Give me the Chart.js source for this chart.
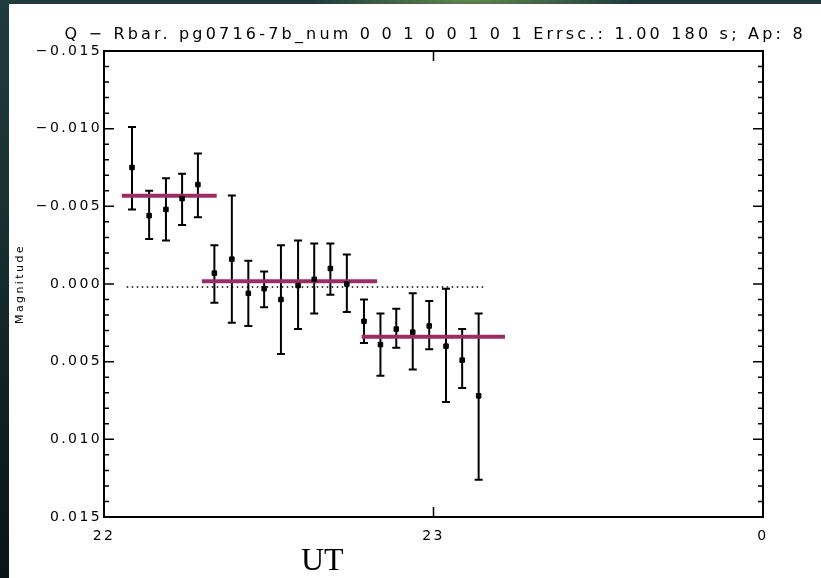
<!DOCTYPE html>
<html><head><meta charset="utf-8">
<script src="https://cdn.jsdelivr.net/npm/chart.js@4"></script>
<style>
html,body{margin:0;padding:0;width:821px;height:578px;overflow:hidden;}
body{position:relative;background:
 radial-gradient(ellipse 160px 18px at 470px 0px, rgba(110,150,80,0.85) 0%, rgba(40,70,60,0) 100%),
 linear-gradient(180deg,#1f3b3e 0%, #183133 35%, #10201f 70%, #0a1315 100%);}
#wrap{position:absolute;left:9px;top:4px;width:812px;height:574px;background:#fff;}
canvas{position:absolute;left:0;top:0;}
#ut{position:absolute;left:301px;top:541px;font-family:"Liberation Serif","DejaVu Serif",serif;font-size:32px;line-height:36px;color:#000;}
</style></head>
<body><div id="wrap"><canvas id="c" width="812" height="574"></canvas></div><div id="ut">UT</div>
<script>
const TITLE = "Q − Rbar. pg0716-7b_num 0 0 1 0 0 1 0 1 Errsc.: 1.00 180 s; Ap: 8";
const Y_LABEL = "Magnitude";

// Observation times (UT hours)
const ut = [22.085, 22.137, 22.188, 22.237, 22.285, 22.335, 22.388, 22.438, 22.486, 22.537, 22.589,
            22.638, 22.687, 22.737, 22.789, 22.839, 22.887, 22.937, 22.987, 23.038, 23.087, 23.137];
// Magnitudes
const mag = [-0.0075, -0.0044, -0.0048, -0.0055, -0.0064, -0.0007, -0.0016, 0.0006, 0.0003, 0.0010, 0.0001,
             -0.0003, -0.0010, 0.0000, 0.0024, 0.0039, 0.0029, 0.0031, 0.0027, 0.0040, 0.0049, 0.0072];
// Error bar ends (upper = more negative, lower = more positive)
const errTop = [-0.0101, -0.0060, -0.0068, -0.0071, -0.0084, -0.0025, -0.0057, -0.0015, -0.0008, -0.0025, -0.0028,
                -0.0026, -0.0026, -0.0019, 0.0010, 0.0019, 0.0016, 0.0006, 0.0011, 0.0003, 0.0029, 0.0019];
const errBottom = [-0.0048, -0.0029, -0.0028, -0.0038, -0.0043, 0.0012, 0.0025, 0.0027, 0.0015, 0.0045, 0.0029,
                   0.0019, 0.0007, 0.0018, 0.0038, 0.0059, 0.0041, 0.0055, 0.0042, 0.0076, 0.0067, 0.0126];
// Mean levels
const levelStart = [22.054, 22.297, 22.782];
const levelEnd   = [22.342, 22.829, 23.217];
const levelMag   = [-0.00568, -0.00017, 0.00339];
// Reference (dotted) line
const zeroStart = 22.069, zeroEnd = 23.161, zeroMag = 0.0002;
// Axis ranges / ticks
const xMin = 22, xMax = 24, xStep = 1;
const yMin = -0.015, yMax = 0.015, yStep = 0.005, yMinorStep = 0.001;

const PINK = '#9b2d64';
const FONT = '"DejaVu Sans", sans-serif';

function setSpacing(chart){ chart.ctx.letterSpacing = '2.4px'; }

const decor = {
  id: 'decor',
  beforeUpdate: setSpacing,
  beforeLayout: setSpacing,
  beforeDraw: setSpacing,
  beforeDatasetsDraw(chart){
    const ctx = chart.ctx, xs = chart.scales.x, ys = chart.scales.y;
    ctx.save();
    ctx.strokeStyle = '#000'; ctx.lineWidth = 2;
    for (let i = 0; i < ut.length; i++){
      const x = xs.getPixelForValue(ut[i]);
      const y1 = ys.getPixelForValue(errTop[i]);
      const y2 = ys.getPixelForValue(errBottom[i]);
      ctx.beginPath();
      ctx.moveTo(x, y1); ctx.lineTo(x, y2);
      ctx.moveTo(x-4, y1); ctx.lineTo(x+4, y1);
      ctx.moveTo(x-4, y2); ctx.lineTo(x+4, y2);
      ctx.stroke();
    }
    ctx.restore();
  },
  afterDatasetsDraw(chart){
    const ctx = chart.ctx, a = chart.chartArea, xs = chart.scales.x, ys = chart.scales.y;
    ctx.save();
    ctx.strokeStyle = '#000'; ctx.lineWidth = 2;
    ctx.strokeRect(a.left, a.top, a.right - a.left, a.bottom - a.top);
    ctx.lineWidth = 1.5;
    ctx.beginPath();
    const eps = 1e-9;
    const majors = ys.ticks.map(t => t.value).filter(v => v >= yMin - eps && v <= yMax + eps);
    majors.forEach(v => {
      const y = ys.getPixelForValue(v);
      ctx.moveTo(a.left, y); ctx.lineTo(a.left + 10, y);
      ctx.moveTo(a.right, y); ctx.lineTo(a.right - 10, y);
      const n = Math.round(yStep / yMinorStep);
      for (let m = 1; m < n; m++){
        const vm = v + m * yMinorStep;
        if (vm > yMax + eps) break;
        const ym = ys.getPixelForValue(vm);
        ctx.moveTo(a.left, ym); ctx.lineTo(a.left + 5, ym);
        ctx.moveTo(a.right, ym); ctx.lineTo(a.right - 5, ym);
      }
    });
    xs.ticks.forEach(t => {
      if (t.value <= xMin + eps || t.value >= xMax - eps) return;
      const x = xs.getPixelForValue(t.value);
      ctx.moveTo(x, a.bottom); ctx.lineTo(x, a.bottom - 10);
      ctx.moveTo(x, a.top); ctx.lineTo(x, a.top + 10);
    });
    ctx.stroke();
    // title centred over the plot
    ctx.fillStyle = '#000';
    ctx.font = '16px ' + FONT;
    ctx.letterSpacing = '3.2px';
    ctx.textAlign = 'center';
    ctx.textBaseline = 'alphabetic';
    ctx.fillText(TITLE, (a.left + a.right) / 2 + 1.6, 35);
    ctx.restore();
  }
};

const pts = ut.map((x, i) => ({x, y: mag[i]}));
const levelSets = levelMag.map((m, i) => ({
  type: 'line', data: [{x: levelStart[i], y: m}, {x: levelEnd[i], y: m}],
  borderColor: PINK, borderWidth: 4, pointRadius: 0, order: 1
}));

new Chart(document.getElementById('c'), {
  type: 'scatter',
  data: {
    datasets: [
      { data: pts, pointStyle: 'rect', pointRadius: 3.2, borderWidth: 1,
        backgroundColor: '#000', borderColor: '#000', showLine: false, order: 0 },
      ...levelSets,
      { type: 'line', data: [{x: zeroStart, y: zeroMag}, {x: zeroEnd, y: zeroMag}],
        borderColor: '#000', borderWidth: 1.5, borderDash: [1.5, 3.5], pointRadius: 0, order: 2 }
    ]
  },
  plugins: [decor],
  options: {
    responsive: false, animation: false, devicePixelRatio: 1,
    layout: { padding: { top: 47, right: 58, left: 0, bottom: 0 } },
    plugins: { legend: { display: false }, tooltip: { enabled: false }, title: { display: false } },
    scales: {
      x: {
        type: 'linear', min: xMin, max: xMax,
        grid: { display: false, drawTicks: false }, border: { display: false },
        ticks: { stepSize: xStep, padding: 11, color: '#000', font: { family: FONT, size: 14 },
                 maxRotation: 0, callback: v => String(v % 24) },
        afterFit(s){ s.height = 61; }
      },
      y: {
        type: 'linear', min: yMin, max: yMax, reverse: true,
        grid: { display: false, drawTicks: false }, border: { display: false },
        ticks: { stepSize: yStep, padding: 2, color: '#000', font: { family: FONT, size: 14 },
                 callback: v => { const r = Math.round(v * 1000) / 1000; return (r < 0 ? '−' : '') + Math.abs(r).toFixed(3); } },
        title: { display: true, text: Y_LABEL, color: '#000', font: { family: FONT, size: 11 }, padding: { top: 5, bottom: 0 } },
        afterFit(s){ s.width = 95; }
      }
    }
  }
});
</script>
</body></html>
